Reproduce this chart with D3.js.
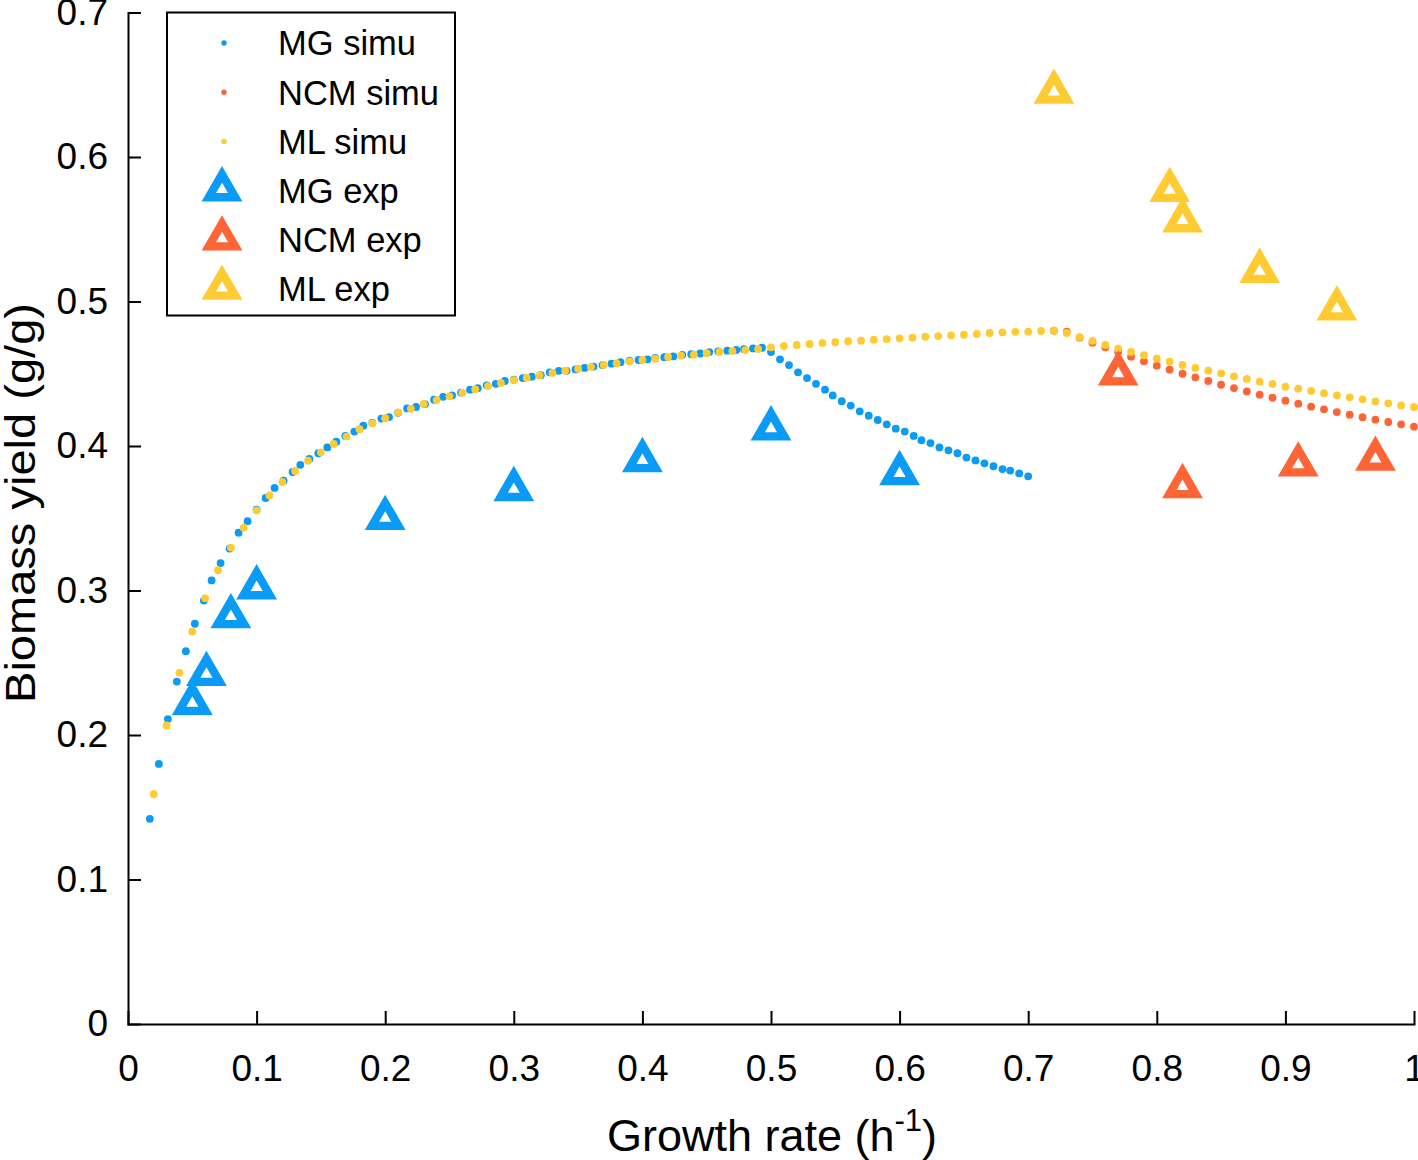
<!DOCTYPE html>
<meta charset="utf-8">
<style>
	body { margin: 0; background: #fff; }
	svg text { font-family: Helvetica, Arial, "Liberation Sans", sans-serif; fill: #000; }
	.axis path, .axis line { stroke: #000; stroke-width: 2px; }
</style>
<body>
<svg id="chart" width="1418" height="1160"></svg>
<script src="https://cdn.jsdelivr.net/npm/d3@7/dist/d3.min.js"></script>
<script>
	// MG simu (blue dots)
	var mgSimuX = [0.017,0.024,0.031,0.038,0.045,0.052,0.059,0.065,0.072,0.079,
		0.086,0.093,0.100,0.107,0.114,0.121,0.128,0.134,0.141,0.148,
		0.155,0.162,0.169,0.176,0.183,0.190,0.197,0.203,0.210,0.217,
		0.224,0.231,0.238,0.245,0.252,0.259,0.266,0.272,0.279,0.286,
		0.293,0.300,0.307,0.314,0.321,0.328,0.335,0.341,0.348,0.355,
		0.362,0.369,0.376,0.383,0.390,0.397,0.404,0.410,0.417,0.424,
		0.431,0.438,0.445,0.452,0.459,0.466,0.473,0.479,0.486,0.493,
		0.500,0.507,0.514,0.521,0.528,0.535,0.542,0.548,0.555,0.562,
		0.569,0.576,0.583,0.590,0.597,0.604,0.611,0.617,0.624,0.631,
		0.638,0.645,0.652,0.659,0.666,0.673,0.680,0.686,0.693,0.700];
	var mgSimuY = [0.142,0.180,0.211,0.237,0.258,0.277,0.293,0.307,0.319,0.329,
		0.340,0.348,0.356,0.364,0.371,0.376,0.382,0.387,0.391,0.395,
		0.399,0.403,0.407,0.410,0.414,0.416,0.419,0.420,0.423,0.426,
		0.427,0.429,0.432,0.434,0.435,0.437,0.439,0.440,0.442,0.443,
		0.445,0.446,0.447,0.448,0.449,0.451,0.452,0.452,0.453,0.454,
		0.455,0.456,0.457,0.458,0.459,0.4595,0.460,0.461,0.4615,0.462,
		0.463,0.4635,0.464,0.465,0.4655,0.466,0.4665,0.467,0.4675,0.468,
		0.465,0.460,0.456,0.451,0.447,0.443,0.439,0.435,0.431,0.428,
		0.424,0.421,0.418,0.415,0.412,0.410,0.407,0.404,0.402,0.399,
		0.397,0.395,0.392,0.390,0.388,0.386,0.384,0.383,0.381,0.379];

	// NCM simu (orange dots, visible where it leaves ML)
	var ncmSimuX = [0.72,0.73,0.74,0.75,0.76,0.77,0.78,0.79,0.80,0.81,
		0.82,0.83,0.84,0.85,0.86,0.87,0.88,0.89,0.90,0.91,
		0.92,0.93,0.94,0.95,0.96,0.97,0.98,0.99,1.00];
	var ncmSimuY = [0.4798,0.4791,0.4750,0.4715,0.4683,0.4651,0.4618,0.4586,0.4556,0.4528,
		0.4500,0.4475,0.4450,0.4424,0.4401,0.4378,0.4355,0.4334,0.4314,0.4293,
		0.4272,0.4254,0.4235,0.4217,0.4199,0.4182,0.4166,0.4150,0.4134];

	// ML simu (yellow dots)
	var mlSimuX = [0.02,0.03,0.04,0.05,0.06,0.07,0.08,0.09,0.10,
		0.11,0.12,0.13,0.14,0.15,0.16,0.17,0.18,0.19,0.20,
		0.21,0.22,0.23,0.24,0.25,0.26,0.27,0.28,0.29,0.30,
		0.31,0.32,0.33,0.34,0.35,0.36,0.37,0.38,0.39,0.40,
		0.41,0.42,0.43,0.44,0.45,0.46,0.47,0.48,0.49,0.50,
		0.51,0.52,0.53,0.54,0.55,0.56,0.57,0.58,0.59,0.60,
		0.61,0.62,0.63,0.64,0.65,0.66,0.67,0.68,0.69,0.70,
		0.71,0.72,0.73,0.74,0.75,0.76,0.77,0.78,0.79,0.80,
		0.81,0.82,0.83,0.84,0.85,0.86,0.87,0.88,0.89,0.90,
		0.91,0.92,0.93,0.94,0.95,0.96,0.97,0.98,0.99,1.00];
	var mlSimuY = [0.159,0.2066,0.243,0.2716,0.2947,0.3141,0.3297,0.3435,0.3554,
		0.3658,0.3751,0.3827,0.3898,0.3956,0.4014,0.4065,0.4116,0.4157,0.4192,
		0.4231,0.4258,0.4291,0.4318,0.4344,0.4369,0.4392,0.4415,0.4436,0.4455,
		0.4473,0.4489,0.4506,0.4521,0.4535,0.4547,0.4561,0.4572,0.4586,0.4595,
		0.4604,0.4616,0.4625,0.4632,0.4642,0.4651,0.4657,0.4664,0.4671,0.4683,
		0.4692,0.4699,0.4706,0.4713,0.4718,0.4725,0.4729,0.4736,0.4740,0.4745,
		0.4750,0.4756,0.4761,0.4766,0.4770,0.4775,0.4782,0.4786,0.4790,0.4791,
		0.4796,0.4798,0.4782,0.4754,0.4727,0.4699,0.4674,0.4651,0.4628,0.4604,
		0.4584,0.4561,0.4540,0.4521,0.4503,0.4482,0.4464,0.4445,0.4429,0.4410,
		0.4397,0.4381,0.4365,0.4351,0.4337,0.4323,0.4309,0.4295,0.4281,0.4270];

	// experimental points (triangles)
	var mgExpX = [0.05,0.061,0.08,0.10,0.20,0.30,0.40,0.50,0.60];
	var mgExpY = [0.222,0.242,0.282,0.302,0.350,0.370,0.390,0.412,0.381];
	var ncmExpX = [0.77,0.82,0.91,0.97];
	var ncmExpY = [0.450,0.372,0.387,0.391];
	var mlExpX = [0.72,0.81,0.82,0.88,0.94];
	var mlExpY = [0.645,0.577,0.556,0.521,0.495];

	var xTicks = [0,0.1,0.2,0.3,0.4,0.5,0.6,0.7,0.8,0.9,1];
	var yTicks = [0,0.1,0.2,0.3,0.4,0.5,0.6,0.7];
	var legendLabels = ["MG simu","NCM simu","ML simu","MG exp","NCM exp","ML exp"];

	var BLUE = "#0a9bf7", ORANGE = "#fe6536", YELLOW = "#ffcb33";

	var svg = d3.select("#chart");
	var x = d3.scaleLinear().domain([0, 1]).range([128, 1414]);
	var y = d3.scaleLinear().domain([0, 0.7]).range([1024, 12.5]);

	function zip(xs, ys) {
		return xs.map(function(v, i) { return [v, ys[i]]; });
	}

	// axes, ticks pointing inward
	svg.append("g").attr("class", "axis")
		.attr("transform", "translate(0,1024)")
		.call(d3.axisBottom(x).tickValues(xTicks).tickSizeInner(-13).tickSizeOuter(0)
			.tickPadding(31).tickFormat(d3.format("")));
	svg.append("g").attr("class", "axis")
		.attr("transform", "translate(128,0)")
		.call(d3.axisLeft(y).tickValues(yTicks).tickSizeInner(-13).tickSizeOuter(0)
			.tickPadding(20).tickFormat(d3.format("")));
	svg.selectAll(".axis text").attr("font-size", 37).attr("font-family", null);
	svg.selectAll(".axis path").attr("stroke-linecap", "square");

	// simulated curves (dots)
	var simu = [
		{ pts: zip(mgSimuX, mgSimuY), color: BLUE },
		{ pts: zip(ncmSimuX, ncmSimuY), color: ORANGE },
		{ pts: zip(mlSimuX, mlSimuY), color: YELLOW }
	];
	simu.forEach(function(s) {
		svg.append("g").selectAll("circle").data(s.pts).enter().append("circle")
			.attr("cx", function(d) { return x(d[0]); })
			.attr("cy", function(d) { return y(d[1]); })
			.attr("r", 3.9)
			.attr("fill", s.color);
	});

	// experimental points
	var tri = d3.symbol().type(d3.symbolTriangle).size(304);
	var exp = [
		{ pts: zip(mgExpX, mgExpY), color: BLUE },
		{ pts: zip(ncmExpX, ncmExpY), color: ORANGE },
		{ pts: zip(mlExpX, mlExpY), color: YELLOW }
	];
	exp.forEach(function(s) {
		svg.append("g").selectAll("path").data(s.pts).enter().append("path")
			.attr("d", tri)
			.attr("transform", function(d) { return "translate(" + x(d[0]) + "," + y(d[1]) + ")"; })
			.attr("fill", "none")
			.attr("stroke", s.color)
			.attr("stroke-width", 8.3)
			.attr("stroke-linejoin", "miter");
	});

	// legend
	var legend = svg.append("g");
	legend.append("rect")
		.attr("x", 167).attr("y", 12.5).attr("width", 288).attr("height", 303)
		.attr("fill", "#fff").attr("stroke", "#000").attr("stroke-width", 2);
	var legColors = [BLUE, ORANGE, YELLOW, BLUE, ORANGE, YELLOW];
	legendLabels.forEach(function(lab, i) {
		var cy = 43 + i * 49.2;
		if (i < 3) {
			legend.append("circle").attr("cx", 224).attr("cy", cy).attr("r", 2.7)
				.attr("fill", legColors[i]);
		} else {
			legend.append("path").attr("d", tri)
				.attr("transform", "translate(222," + (cy - 1) + ")")
				.attr("fill", "none").attr("stroke", legColors[i])
				.attr("stroke-width", 8.3).attr("stroke-linejoin", "miter");
		}
		legend.append("text").attr("x", 278).attr("y", cy)
			.attr("dy", "0.36em").attr("font-size", 34.5).text(lab);
	});

	// axis titles
	var xt = svg.append("text").attr("x", 772).attr("y", 1151)
		.attr("text-anchor", "middle").attr("font-size", 45);
	xt.append("tspan").text("Growth rate (h");
	xt.append("tspan").attr("dy", -20).attr("font-size", 31).text("-1");
	xt.append("tspan").attr("dy", 20).text(")");

	svg.append("text")
		.attr("transform", "translate(35,503) rotate(-90)")
		.attr("text-anchor", "middle").attr("font-size", 42)
		.attr("textLength", 400).attr("lengthAdjust", "spacingAndGlyphs")
		.text("Biomass yield (g/g)");
</script>
</body>
